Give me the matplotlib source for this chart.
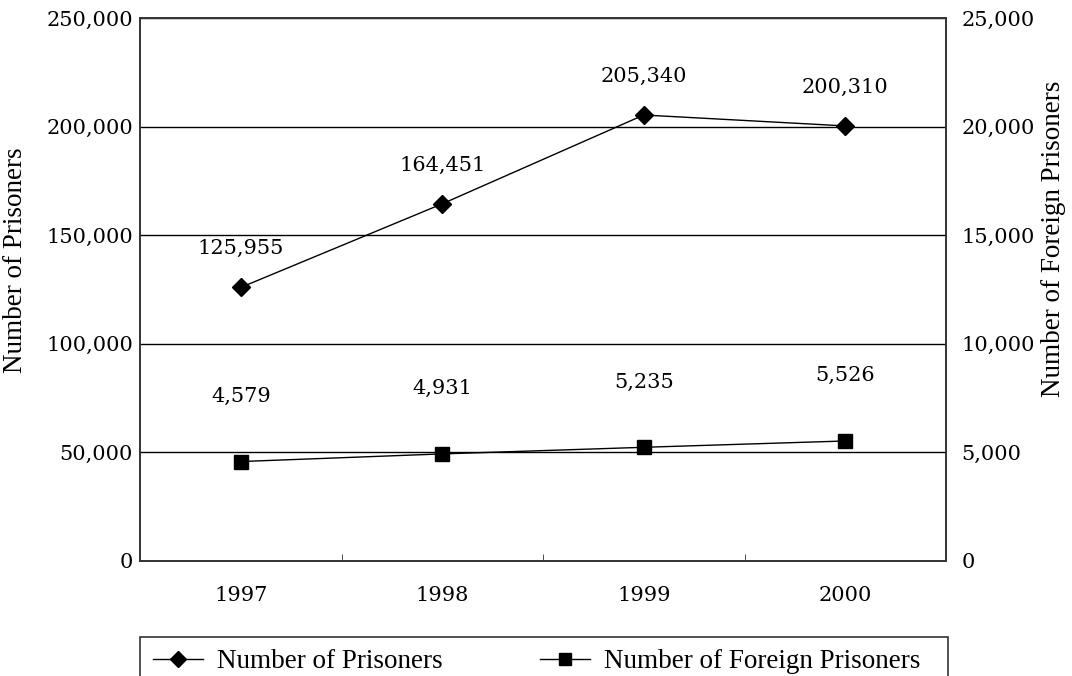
import matplotlib.pyplot as plt
from matplotlib.lines import Line2D
from matplotlib.patches import Rectangle

years = ['1997', '1998', '1999', '2000']
prisoners = [125955, 164451, 205340, 200310]
foreign = [4579, 4931, 5235, 5526]

plt.rcParams['font.family'] = ['DejaVu Serif']
plt.rcParams['font.size'] = 15

W, H = 1072, 676
fig = plt.figure(figsize=(W / 100, H / 100), dpi=100)
ax = fig.add_axes([140 / W, 1 - 561 / H, 806 / W, 543 / H])
ax2 = ax.twinx()

x = list(range(len(years)))
label_font = dict(family='Liberation Serif', size=19.5)

# left axis: all prisoners
ax.plot(x, prisoners, color='black', lw=1, marker='D', ms=9, zorder=3)
ax.set_ylim(0, 250000)
ax.set_yticks(range(0, 250001, 50000))
ax.set_yticklabels([f'{v:,}' for v in range(0, 250001, 50000)])
ax.yaxis.grid(True, color='black', lw=1)
ax.set_axisbelow(True)
ax.set_xlim(-0.5, len(years) - 0.5)
ax.set_xticks(x)
ax.set_xticklabels(years)
ax.set_xticks([i + 0.5 for i in x[:-1]], minor=True)
ax.tick_params(axis='x', which='major', length=0, pad=18)
ax.tick_params(axis='x', which='minor', direction='in', length=5, color='#333333')
ax.tick_params(axis='y', length=0, pad=5)
for xi, v in zip(x, prisoners):
    ax.annotate(f'{v:,}', (xi, v), xytext=(0, 28), textcoords='offset points',
                ha='center', va='center')

# right axis: foreign prisoners
ax2.plot(x, foreign, color='black', lw=1, marker='s', ms=9.5, zorder=3)
ax2.set_ylim(0, 25000)
ax2.set_yticks(range(0, 25001, 5000))
ax2.set_yticklabels([f'{v:,}' for v in range(0, 25001, 5000)])
ax2.tick_params(axis='y', length=0, pad=11)
for xi, v in zip(x, foreign):
    ax2.annotate(f'{v:,}', (xi, v), xytext=(0, 47), textcoords='offset points',
                 ha='center', va='center')

for a in (ax, ax2):
    for s in a.spines.values():
        s.set_color('#333333')
        s.set_linewidth(1.2)

# axis titles
fig.text(16 / W, 1 - 260 / H, 'Number of Prisoners', rotation=90,
         ha='center', va='center', **label_font)
fig.text(1054 / W, 1 - 239 / H, 'Number of Foreign Prisoners', rotation=90,
         ha='center', va='center', **label_font)

# legend box runs past the bottom edge
fig.patches.append(Rectangle((140 / W, -0.05), 808 / W, 0.05 + 1 - 637 / H,
                             transform=fig.transFigure, fill=False,
                             edgecolor='#333333', lw=1.2))
handles = [Line2D([], [], color='black', lw=1, marker='D', ms=8),
           Line2D([], [], color='black', lw=1, marker='s', ms=8)]
fig.legend(handles, ['Number of Prisoners', 'Number of Foreign Prisoners'],
           loc='center left', bbox_to_anchor=(153 / W, 1 - 662 / H),
           ncol=2, frameon=False, handlelength=1.85, handletextpad=0.52,
           columnspacing=3.6, borderpad=0, borderaxespad=0,
           prop=label_font)

fig.savefig('out.png', dpi=100)
